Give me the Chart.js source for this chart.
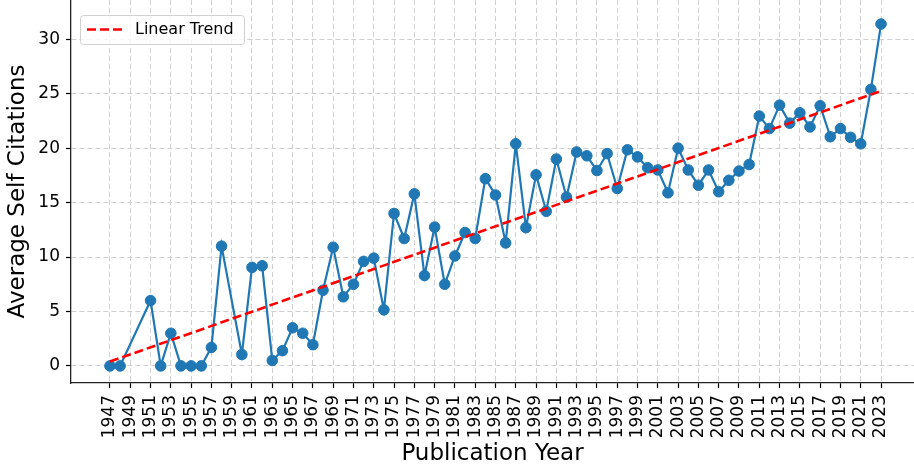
<!DOCTYPE html>
<html>
<head>
    <title>Average Self Citations</title>
    <meta charset="UTF-8">
    <style>
        html, body {
            margin: 0;
            padding: 0;
            background: #ffffff;
            overflow: hidden;
        }
    </style>
    <script src="https://cdn.jsdelivr.net/npm/chart.js"></script>
</head>
<body>
<canvas id="citationChart" width="914" height="468"></canvas>
<script>
    // publication years that have a value (1949, 1950 and 1959 are missing)
    const years = [
        1947, 1948, 1951, 1952, 1953, 1954, 1955, 1956, 1957, 1958,
        1960, 1961, 1962, 1963, 1964, 1965, 1966, 1967, 1968, 1969,
        1970, 1971, 1972, 1973, 1974, 1975, 1976, 1977, 1978, 1979,
        1980, 1981, 1982, 1983, 1984, 1985, 1986, 1987, 1988, 1989,
        1990, 1991, 1992, 1993, 1994, 1995, 1996, 1997, 1998, 1999,
        2000, 2001, 2002, 2003, 2004, 2005, 2006, 2007, 2008, 2009,
        2010, 2011, 2012, 2013, 2014, 2015, 2016, 2017, 2018, 2019,
        2020, 2021, 2022, 2023
    ];
    const avgSelfCitations = [
        0, 0, 6.0, 0, 3.0, 0, 0, 0, 1.7, 11.0,
        1.05, 9.05, 9.2, 0.5, 1.4, 3.5, 3.0, 1.95, 6.95, 10.9,
        6.35, 7.5, 9.6, 9.9, 5.15, 14.0, 11.7, 15.8, 8.3, 12.75,
        7.5, 10.1, 12.25, 11.7, 17.2, 15.7, 11.3, 20.4, 12.7, 17.55,
        14.2, 19.0, 15.5, 19.65, 19.3, 17.95, 19.5, 16.3, 19.85, 19.2,
        18.2, 18.0, 15.9, 20.0, 18.0, 16.6, 18.0, 16.0, 17.05, 17.9,
        18.5, 22.95, 21.8, 23.95, 22.3, 23.25, 21.95, 23.9, 21.05, 21.8,
        21.0, 20.4, 25.4, 31.4
    ];
    // linear trend, read at its two ends
    const trendYears = [1947, 2023];
    const trendValues = [0.4, 25.25];

    const xTicks = [];
    for (let y = 1947; y <= 2023; y += 2) xTicks.push(y);
    const yTicks = [0, 5, 10, 15, 20, 25, 30];

    const FONT = "'DejaVu Sans', sans-serif";

    // legend box in the upper left corner, like matplotlib's
    const legendBox = {
        id: 'legendBox',
        afterDraw(chart) {
            const ctx = chart.ctx;
            const ds = chart.data.datasets[0];
            const x = 80, y = 15, w = 164, h = 29, r = 3;
            ctx.save();
            ctx.beginPath();
            ctx.roundRect(x + 0.5, y + 0.5, w, h, r);
            ctx.fillStyle = 'rgba(255,255,255,0.8)';
            ctx.fill();
            ctx.strokeStyle = '#d0d0d0';
            ctx.lineWidth = 1;
            ctx.stroke();

            ctx.beginPath();
            ctx.setLineDash(ds.borderDash);
            ctx.strokeStyle = ds.borderColor;
            ctx.lineWidth = ds.borderWidth;
            ctx.moveTo(87, 29.5);
            ctx.lineTo(122, 29.5);
            ctx.stroke();

            ctx.setLineDash([]);
            ctx.fillStyle = '#000';
            ctx.font = '16px ' + FONT;
            ctx.textBaseline = 'middle';
            ctx.fillText(ds.label, 135, 30);
            ctx.restore();
        }
    };

    new Chart(document.getElementById('citationChart').getContext('2d'), {
        type: 'line',
        data: {
            datasets: [{
                label: 'Linear Trend',
                data: trendYears.map((yr, i) => ({x: yr, y: trendValues[i]})),
                borderColor: '#ff0000',
                borderDash: [9, 4],
                borderWidth: 2.6,
                pointRadius: 0,
                fill: false
            }, {
                label: 'Average Self Citations',
                data: years.map((yr, i) => ({x: yr, y: avgSelfCitations[i]})),
                borderColor: '#1f77b4',
                backgroundColor: '#1f77b4',
                pointBackgroundColor: '#1f77b4',
                pointBorderColor: '#1f77b4',
                borderWidth: 2.2,
                pointRadius: 5.3,
                pointBorderWidth: 1,
                tension: 0,
                fill: false
            }]
        },
        options: {
            responsive: false,
            animation: false,
            devicePixelRatio: 1,
            layout: {
                padding: 0,
                autoPadding: false
            },
            plugins: {
                legend: {
                    display: false
                },
                tooltip: {
                    enabled: false
                }
            },
            scales: {
                x: {
                    type: 'linear',
                    min: 1943.16,
                    max: 2026.25,
                    afterBuildTicks: function(scale) {
                        scale.ticks = xTicks.map(v => ({value: v}));
                    },
                    afterFit: function(scale) {
                        scale.height = 85;
                        scale.paddingLeft = 0;
                        scale.paddingRight = 0;
                    },
                    ticks: {
                        autoSkip: false,
                        minRotation: 90,
                        maxRotation: 90,
                        padding: 7,
                        color: '#000',
                        font: {
                            family: FONT,
                            size: 17
                        },
                        callback: function(value) {
                            return String(value);
                        }
                    },
                    grid: {
                        color: '#d0d0d0',
                        lineWidth: 1,
                        tickColor: '#000',
                        tickLength: 5,
                        tickWidth: 1.2
                    },
                    border: {
                        display: true,
                        color: '#222',
                        width: 1.3,
                        dash: [5, 3]
                    },
                    title: {
                        display: true,
                        text: 'Publication Year',
                        color: '#000',
                        padding: {top: 0, bottom: 0},
                        font: {
                            family: FONT,
                            size: 23
                        }
                    }
                },
                y: {
                    min: -1.57,
                    max: 33.61,
                    afterBuildTicks: function(scale) {
                        scale.ticks = yTicks.map(v => ({value: v}));
                    },
                    afterFit: function(scale) {
                        scale.width = 71;
                        scale.paddingTop = 0;
                        scale.paddingBottom = 0;
                    },
                    ticks: {
                        padding: 6,
                        color: '#000',
                        font: {
                            family: FONT,
                            size: 17
                        },
                        callback: function(value) {
                            return String(value);
                        }
                    },
                    grid: {
                        color: '#d0d0d0',
                        lineWidth: 1,
                        tickColor: '#000',
                        tickLength: 5,
                        tickWidth: 1.2
                    },
                    border: {
                        display: true,
                        color: '#222',
                        width: 1.3,
                        dash: [5, 3]
                    },
                    title: {
                        display: true,
                        text: 'Average Self Citations',
                        color: '#000',
                        padding: {top: 4, bottom: 0},
                        font: {
                            family: FONT,
                            size: 23
                        }
                    }
                }
            }
        },
        plugins: [legendBox]
    });
</script>
</body>
</html>
